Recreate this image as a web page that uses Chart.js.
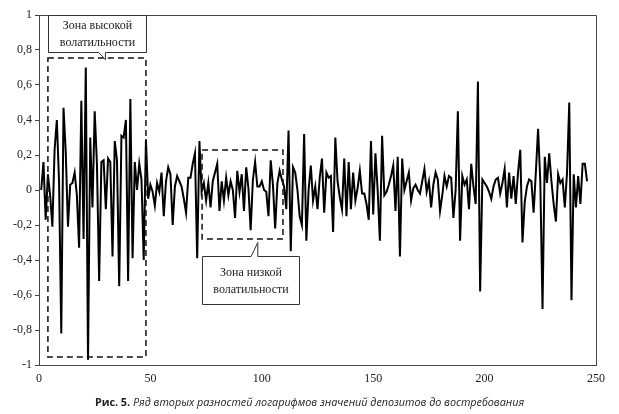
<!DOCTYPE html>
<html><head><meta charset="utf-8">
<script src="https://cdn.jsdelivr.net/npm/chart.js@4"></script>
<style>
html,body{margin:0;padding:0;background:#fff;}
#wrap{position:relative;width:619px;height:414px;}
canvas{position:absolute;left:0;top:0;}
#cap{position:absolute;left:0;top:395px;width:619px;text-align:center;font-family:"Open Sans";font-size:10.8px;line-height:14px;color:#222;white-space:nowrap;}
</style></head>
<body><div id="wrap"><canvas id="c" width="619" height="414"></canvas><div id="cap"><b>Рис. 5.</b> <i>Ряд вторых разностей логарифмов значений депозитов до востребования</i></div></div>
<script>
// series: second differences of log deposits (period 1..246)
const firstPeriod = 1;
const values = [
 0.00, 0.16,-0.17, 0.09,-0.03,-0.21, 0.23, 0.40, 0.05,-0.82,
 0.47, 0.22,-0.21, 0.03, 0.04, 0.10,-0.03,-0.33, 0.51,-0.28,
 0.70,-0.97, 0.30,-0.10, 0.45, 0.15,-0.52, 0.16, 0.17,-0.11,
 0.18, 0.16,-0.38, 0.28, 0.17,-0.55, 0.31, 0.30, 0.40,-0.52,
 0.52,-0.39, 0.16, 0.00, 0.15, 0.06,-0.40, 0.29,-0.05, 0.03,
-0.01,-0.09, 0.04,-0.01, 0.10,-0.15, 0.05, 0.13, 0.09,-0.20,
 0.02, 0.08, 0.05, 0.02,-0.05,-0.13, 0.07, 0.07, 0.15, 0.21,
-0.39, 0.28,-0.01, 0.04,-0.06, 0.04,-0.10, 0.05, 0.10, 0.15,
-0.12, 0.05,-0.06, 0.07,-0.03, 0.05, 0.00,-0.16, 0.11,-0.01,
 0.09,-0.12, 0.13, 0.01,-0.23, 0.06, 0.16, 0.02, 0.02, 0.05,
 0.00,-0.01,-0.15, 0.17, 0.03,-0.22, 0.04, 0.11, 0.06, 0.02,
-0.11, 0.34,-0.35, 0.13, 0.10, 0.00,-0.15,-0.20, 0.32,-0.29,
 0.00, 0.14,-0.06, 0.02,-0.11, 0.07, 0.18,-0.13, 0.10, 0.07,
 0.08,-0.24, 0.30, 0.05,-0.04,-0.11, 0.18,-0.15, 0.16,-0.11,
 0.10,-0.06, 0.01, 0.11,-0.02,-0.02,-0.08,-0.17, 0.28,-0.14,
 0.21, 0.00,-0.29, 0.31,-0.03,-0.01, 0.03, 0.08, 0.14,-0.12,
 0.19,-0.38, 0.18, 0.00, 0.05, 0.10,-0.06, 0.01, 0.03, 0.00,
-0.02, 0.05, 0.12,-0.01, 0.05,-0.10, 0.03, 0.10, 0.06,-0.12,
-0.03, 0.08, 0.02, 0.08, 0.07,-0.16, 0.00, 0.45,-0.29, 0.08,
 0.03, 0.06,-0.11, 0.15, 0.02,-0.08, 0.62,-0.58, 0.06, 0.04,
 0.02,-0.01,-0.05, 0.02, 0.06, 0.07,-0.02, 0.04, 0.12,-0.10,
 0.10,-0.05, 0.08,-0.08, 0.10, 0.23,-0.30,-0.07, 0.02, 0.06,
 0.05,-0.13, 0.10, 0.35, 0.05,-0.68, 0.19, 0.04, 0.21, 0.05,
-0.08,-0.18, 0.09, 0.04, 0.06,-0.10, 0.10, 0.50,-0.63, 0.09,
-0.10, 0.08,-0.08, 0.15, 0.15, 0.05
];
const xTicks = [0, 50, 100, 150, 200, 250];
const yTicks = [-1, -0.8, -0.6, -0.4, -0.2, 0, 0.2, 0.4, 0.6, 0.8, 1];
const calloutTexts = [["Зона высокой", "волатильности"], ["Зона низкой", "волатильности"]];

// annotation geometry (in data units)
const zones = [
  {x0: 4, x1: 48, y0: 0.754, y1: -0.954},
  {x0: 73.2, x1: 109.5, y0: 0.229, y1: -0.28}
];
const callouts = [
  {x0: 4, x1: 48, y0: 1.0, y1: 0.789, tipX: 29.8, tipY: 0.745, baseA: 26.8, baseB: 29.8},
  {x0: 73.2, x1: 116.5, y0: -0.377, y1: -0.651, tipX: 98.2, tipY: -0.30, baseA: 95.2, baseB: 98.2}
];

const points = values.map((v, i) => ({x: firstPeriod + i, y: v}));

const frame = {
  id: 'frame',
  afterDatasetsDraw(chart) {
    const {ctx, chartArea: a, scales: {x, y}} = chart;
    ctx.save();
    ctx.strokeStyle = '#444'; ctx.lineWidth = 1;
    ctx.beginPath();
    ctx.moveTo(a.left, a.top + 0.5); ctx.lineTo(a.right + 0.5, a.top + 0.5); ctx.lineTo(a.right + 0.5, a.bottom);
    ctx.stroke();
    // dashed zones
    ctx.strokeStyle = '#111'; ctx.lineWidth = 1.5; ctx.setLineDash([6, 4]);
    zones.forEach(z => {
      const l = x.getPixelForValue(z.x0), r = x.getPixelForValue(z.x1);
      const t = y.getPixelForValue(z.y0), b = y.getPixelForValue(z.y1);
      ctx.strokeRect(l, t, r - l, b - t);
    });
    ctx.setLineDash([]);
    // callouts
    callouts.forEach((c, k) => {
      const l = Math.round(x.getPixelForValue(c.x0)) + 0.5, r = Math.round(x.getPixelForValue(c.x1)) + 0.5;
      const t = Math.round(y.getPixelForValue(c.y0)) + 0.5, b = Math.round(y.getPixelForValue(c.y1)) + 0.5;
      const tx = x.getPixelForValue(c.tipX), ty = y.getPixelForValue(c.tipY);
      const ba = x.getPixelForValue(c.baseA), bb = x.getPixelForValue(c.baseB);
      ctx.beginPath();
      ctx.moveTo(l, t);
      if (ty < t) { // pointer up
        ctx.lineTo(ba, t); ctx.lineTo(tx, ty); ctx.lineTo(bb, t);
        ctx.lineTo(r, t); ctx.lineTo(r, b); ctx.lineTo(l, b);
      } else {
        ctx.lineTo(r, t); ctx.lineTo(r, b);
        ctx.lineTo(bb, b); ctx.lineTo(tx, ty); ctx.lineTo(ba, b);
        ctx.lineTo(l, b);
      }
      ctx.closePath();
      ctx.fillStyle = '#fff'; ctx.fill();
      ctx.strokeStyle = '#333'; ctx.lineWidth = 1; ctx.stroke();
      ctx.fillStyle = '#222';
      ctx.font = '12px "Liberation Serif"';
      ctx.textAlign = 'center'; ctx.textBaseline = 'middle';
      const cx = (l + r) / 2, cy = (t + b) / 2;
      ctx.fillText(calloutTexts[k][0], cx, cy - 8);
      ctx.fillText(calloutTexts[k][1], cx, cy + 9);
    });
    ctx.restore();
  }
};

function fmt(v) {
  const r = Math.round(v * 10) / 10;
  return (r === 0 ? '0' : String(r)).replace('.', ',');
}

new Chart(document.getElementById('c'), {
  type: 'line',
  data: { datasets: [{ data: points, borderColor: '#000', borderWidth: 2, pointRadius: 0, tension: 0, fill: false }] },
  options: {
    responsive: false, animation: false, devicePixelRatio: 1,
    layout: { padding: { left: 0, right: 23, top: 15, bottom: 24 } },
    plugins: { legend: { display: false }, tooltip: { enabled: false } },
    scales: {
      x: {
        type: 'linear', min: xTicks[0], max: xTicks[xTicks.length - 1],
        afterBuildTicks: s => { s.ticks = xTicks.map(v => ({value: v})); },
        afterFit: s => { s.height = 25; },
        ticks: { color: '#222', font: { family: 'Liberation Serif', size: 12 }, padding: 7, maxRotation: 0, callback: v => String(v) },
        grid: { drawOnChartArea: false, drawTicks: false },
        border: { color: '#444', width: 1 }
      },
      y: {
        min: yTicks[0], max: yTicks[yTicks.length - 1],
        afterBuildTicks: s => { s.ticks = yTicks.map(v => ({value: v})); },
        afterFit: s => { s.width = 39; },
        ticks: { color: '#222', font: { family: 'Liberation Serif', size: 12 }, padding: 3, callback: v => fmt(v) },
        grid: { drawOnChartArea: false, drawTicks: true, tickLength: 4, color: '#444' },
        border: { color: '#444', width: 1 }
      }
    }
  },
  plugins: [frame]
});
</script>
</body></html>
